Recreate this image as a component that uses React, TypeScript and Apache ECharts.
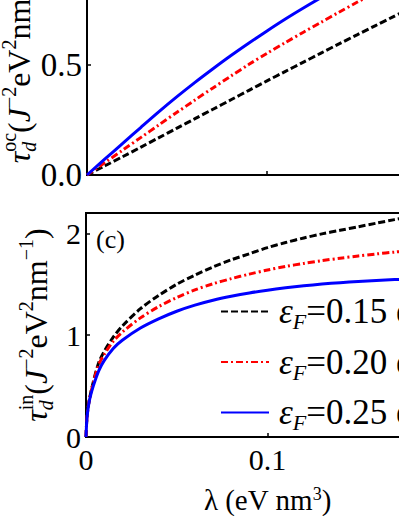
import React, { useEffect, useRef } from 'react';
import * as echarts from 'echarts';

// ---- data ----
const fermiLevels = ['0.15', '0.20', '0.25'];
const lineColors = ['#000000', '#ff0000', '#0000ff'];

// top panel: tau_d^oc vs lambda
const lambdaOc = [0, 0.01, 0.02, 0.03, 0.04, 0.05, 0.06, 0.07, 0.08, 0.09, 0.10, 0.11, 0.12, 0.13, 0.14, 0.15, 0.16, 0.17, 0.18];
const tauOc015 = [0, 0.042, 0.084, 0.127, 0.170, 0.213, 0.256, 0.299, 0.342, 0.385, 0.428, 0.470, 0.512, 0.554, 0.596, 0.637, 0.678, 0.719, 0.760];
const tauOc020 = [0, 0.057, 0.114, 0.171, 0.228, 0.285, 0.341, 0.396, 0.450, 0.503, 0.553, 0.601, 0.648, 0.694, 0.740, 0.785, 0.829, 0.872, 0.914];
const tauOc025 = [0, 0.073, 0.145, 0.217, 0.288, 0.356, 0.421, 0.483, 0.543, 0.600, 0.655, 0.708, 0.758, 0.806, 0.852, 0.896, 0.938, 0.978, 1.016];

// bottom panel (c): tau_d^in vs lambda
const lambdaIn = [0, 0.0005, 0.001, 0.002, 0.004, 0.007, 0.01, 0.015, 0.02, 0.03, 0.04, 0.05, 0.06, 0.07, 0.08, 0.09, 0.10, 0.11, 0.12, 0.13, 0.14, 0.15, 0.16, 0.17, 0.18];
const tauIn015 = [0, 0.19, 0.27, 0.38, 0.54, 0.73, 0.84, 0.98, 1.09, 1.26, 1.39, 1.50, 1.59, 1.67, 1.74, 1.80, 1.86, 1.91, 1.955, 1.995, 2.03, 2.065, 2.10, 2.135, 2.165];
const tauIn020 = [0, 0.19, 0.27, 0.38, 0.53, 0.71, 0.81, 0.94, 1.03, 1.17, 1.28, 1.37, 1.445, 1.505, 1.555, 1.60, 1.64, 1.675, 1.705, 1.732, 1.756, 1.778, 1.798, 1.816, 1.833];
const tauIn025 = [0, 0.18, 0.26, 0.37, 0.50, 0.65, 0.75, 0.87, 0.95, 1.07, 1.16, 1.235, 1.295, 1.343, 1.382, 1.415, 1.442, 1.465, 1.485, 1.502, 1.516, 1.528, 1.538, 1.546, 1.553];

const xTicks = [0, 0.1, 0.2];
const xTickLabels = ['0', '0.1', '0.2'];
const topYTicks = [0, 0.5, 1.0];
const topYTickLabels = ['0.0', '0.5', '1.0'];
const bottomYTicks = [0, 1, 2];
const bottomYTickLabels = ['0', '1', '2'];

const FF = '"Liberation Serif", "Times New Roman", serif';

const pairs = (xs: number[], ys: number[]) => xs.map((x, i) => [x, ys[i]]);
const legendNames = fermiLevels.map((f) => `eF=${f} eV`);
const dashTypes: any[] = [[7, 3], [7, 3, 2, 3], 'solid'];

const labelFromList = (ticks: number[], labels: string[]) => (v: number) => {
  const i = ticks.findIndex((t) => Math.abs(t - v) < 1e-9);
  return i >= 0 ? labels[i] : '';
};

const yNameRich = {
  t: { fontFamily: FF, fontSize: 32, fontStyle: 'italic', lineHeight: 40, color: '#000' },
  d: { fontFamily: FF, fontSize: 20, fontStyle: 'italic', lineHeight: 20, verticalAlign: 'bottom', color: '#000', padding: [0, -10, 0, 0] },
  u: { fontFamily: FF, fontSize: 20, lineHeight: 20, verticalAlign: 'top', color: '#000' },
  m: { fontFamily: FF, fontSize: 32, lineHeight: 40, color: '#000' },
  j: { fontFamily: FF, fontSize: 32, fontStyle: 'italic', lineHeight: 40, color: '#000' },
};

const yName = (sup: string) =>
  `{t|τ}{d|d}{u|${sup}}{m|(}{j|J}{u|−2}{m|eV}{u|2}{m|nm}{u|−1}{m|)}`;

export default function App() {
  const ref = useRef<HTMLDivElement>(null);
  useEffect(() => {
    const chart = echarts.init(ref.current!, null, { renderer: 'svg' });
    const axisLine = { show: true, lineStyle: { color: '#000', width: 2 } };
    const axisTick = { show: true, inside: true, length: 4, lineStyle: { color: '#000', width: 1.5 } };
    const series: any[] = [];
    [tauOc015, tauOc020, tauOc025].forEach((ys, i) => {
      series.push({
        name: 'oc ' + fermiLevels[i],
        type: 'line',
        xAxisIndex: 0,
        yAxisIndex: 0,
        data: pairs(lambdaOc, ys),
        showSymbol: false,
        symbol: 'none',
        smooth: 0.3,
        lineStyle: { color: lineColors[i], width: 3, type: dashTypes[i] },
        itemStyle: { color: lineColors[i] },
      });
    });
    [tauIn015, tauIn020, tauIn025].forEach((ys, i) => {
      series.push({
        name: legendNames[i],
        type: 'line',
        xAxisIndex: 1,
        yAxisIndex: 1,
        data: pairs(lambdaIn, ys),
        showSymbol: false,
        symbol: 'none',
        smooth: 0.3,
        lineStyle: { color: lineColors[i], width: 3, type: dashTypes[i] },
        itemStyle: { color: lineColors[i] },
      });
    });
    chart.setOption({
      animation: false,
      backgroundColor: '#fff',
      grid: [
        { left: 87, top: 15, width: 360, height: 220, show: true, borderColor: '#000', borderWidth: 2, backgroundColor: 'transparent', outerBoundsMode: 'none', containLabel: false },
        { left: 86, top: 273, width: 363, height: 224, show: true, borderColor: '#000', borderWidth: 2, backgroundColor: 'transparent', outerBoundsMode: 'none', containLabel: false },
      ],
      xAxis: [
        {
          gridIndex: 0, type: 'value', min: 0, max: 0.2, interval: 0.1,
          axisLine, axisTick, axisLabel: { show: false }, splitLine: { show: false },
        },
        {
          gridIndex: 1, type: 'value', min: 0, max: 0.2, interval: 0.1,
          axisLine, axisTick,
          axisLabel: { formatter: labelFromList(xTicks, xTickLabels), fontFamily: FF, fontSize: 30, color: '#000', margin: 7 },
          splitLine: { show: false },
          name: 'λ (eV nm{s|3})',
          nameLocation: 'middle',
          nameGap: 48,
          nameMoveOverlap: false,
          nameTextStyle: {
            fontFamily: FF, fontSize: 29, color: '#000', lineHeight: 30,
            rich: { s: { fontFamily: FF, fontSize: 18, lineHeight: 16, verticalAlign: 'top', color: '#000' } },
          },
        },
      ],
      yAxis: [
        {
          gridIndex: 0, type: 'value', min: 0, max: 1, interval: 0.5,
          axisLine, axisTick,
          axisLabel: { formatter: labelFromList(topYTicks, topYTickLabels), fontFamily: FF, fontSize: 33, color: '#000', margin: 5 },
          splitLine: { show: false },
          name: yName('oc'),
          nameLocation: 'middle',
          nameRotate: 90,
          nameGap: 48,
          nameMoveOverlap: false,
          nameTextStyle: { rich: yNameRich },
        },
        {
          gridIndex: 1, type: 'value', min: 0, max: 2.2, interval: 1,
          axisLine, axisTick,
          axisLabel: { formatter: labelFromList(bottomYTicks, bottomYTickLabels), fontFamily: FF, fontSize: 30, color: '#000', margin: 5 },
          splitLine: { show: false },
          name: yName('in'),
          nameLocation: 'middle',
          nameRotate: 90,
          nameGap: 30,
          nameMoveOverlap: false,
          nameTextStyle: { rich: yNameRich },
        },
      ],
      legend: {
        data: legendNames,
        orient: 'vertical',
        left: 220,
        top: 354,
        padding: 0,
        itemWidth: 48,
        itemHeight: 14,
        itemGap: 12,
        selectedMode: false,
        itemStyle: { color: 'rgba(0,0,0,0)', borderWidth: 0, opacity: 0 },
        formatter: (name: string) => {
          const i = legendNames.indexOf(name);
          return `{e|ε}{f|F}{n|=${fermiLevels[i]} eV}`;
        },
        textStyle: {
          padding: [0, 0, 0, 5],
          rich: {
            e: { fontFamily: FF, fontSize: 35, fontStyle: 'italic', lineHeight: 42, color: '#000' },
            f: { fontFamily: FF, fontSize: 22, fontStyle: 'italic', lineHeight: 22, verticalAlign: 'bottom', color: '#000' },
            n: { fontFamily: FF, fontSize: 35, lineHeight: 42, color: '#000' },
          },
        },
      },
      graphic: [
        {
          type: 'text',
          left: 96,
          top: 286,
          style: { text: '(c)', font: `26px ${FF}`, fill: '#000' },
        },
      ],
      series,
    });
    return () => chart.dispose();
  }, []);
  return (
    <div style={{ position: 'fixed', left: 0, top: 0, width: 399, height: 516, overflow: 'hidden', background: '#fff' }}>
      <div ref={ref} style={{ position: 'absolute', left: 0, top: -60, width: 560, height: 600 }} />
    </div>
  );
}
